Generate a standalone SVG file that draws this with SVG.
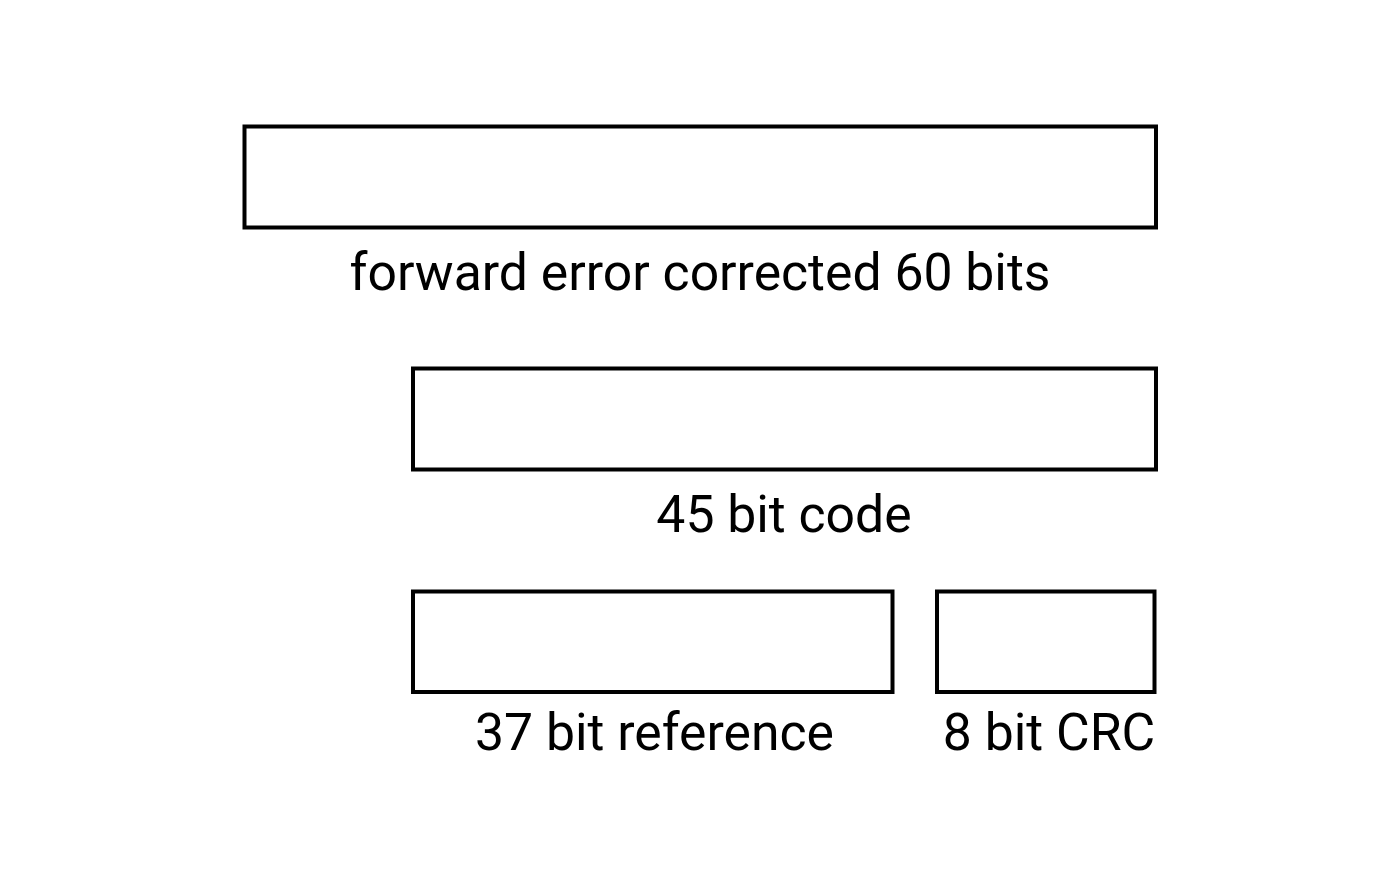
<svg xmlns="http://www.w3.org/2000/svg" width="1400" height="873" viewBox="0 0 1400 873">
<style>
.box{fill:#fff;stroke:#000;stroke-width:4}
.lbl{font-family:Roboto,"Liberation Sans",sans-serif;font-size:51.7px;fill:#000;text-anchor:middle}
</style>
<rect width="1400" height="873" fill="#fff"/>
<g id="fec">
<rect class="box" x="244.5" y="126.5" width="911.5" height="101"/>
<text class="lbl" x="700" y="290">forward error corrected 60 bits</text>
</g>
<g id="code45">
<rect class="box" x="413" y="368.5" width="743" height="101"/>
<text class="lbl" x="784" y="532">45 bit code</text>
</g>
<g id="ref37">
<rect class="box" x="413" y="591.5" width="479.5" height="100.5"/>
<text class="lbl" x="654.5" y="750">37 bit reference</text>
</g>
<g id="crc8">
<rect class="box" x="937" y="591.5" width="217.5" height="100.5"/>
<text class="lbl" x="1049" y="750">8 bit CRC</text>
</g>
<g id="connectors"></g>
</svg>
